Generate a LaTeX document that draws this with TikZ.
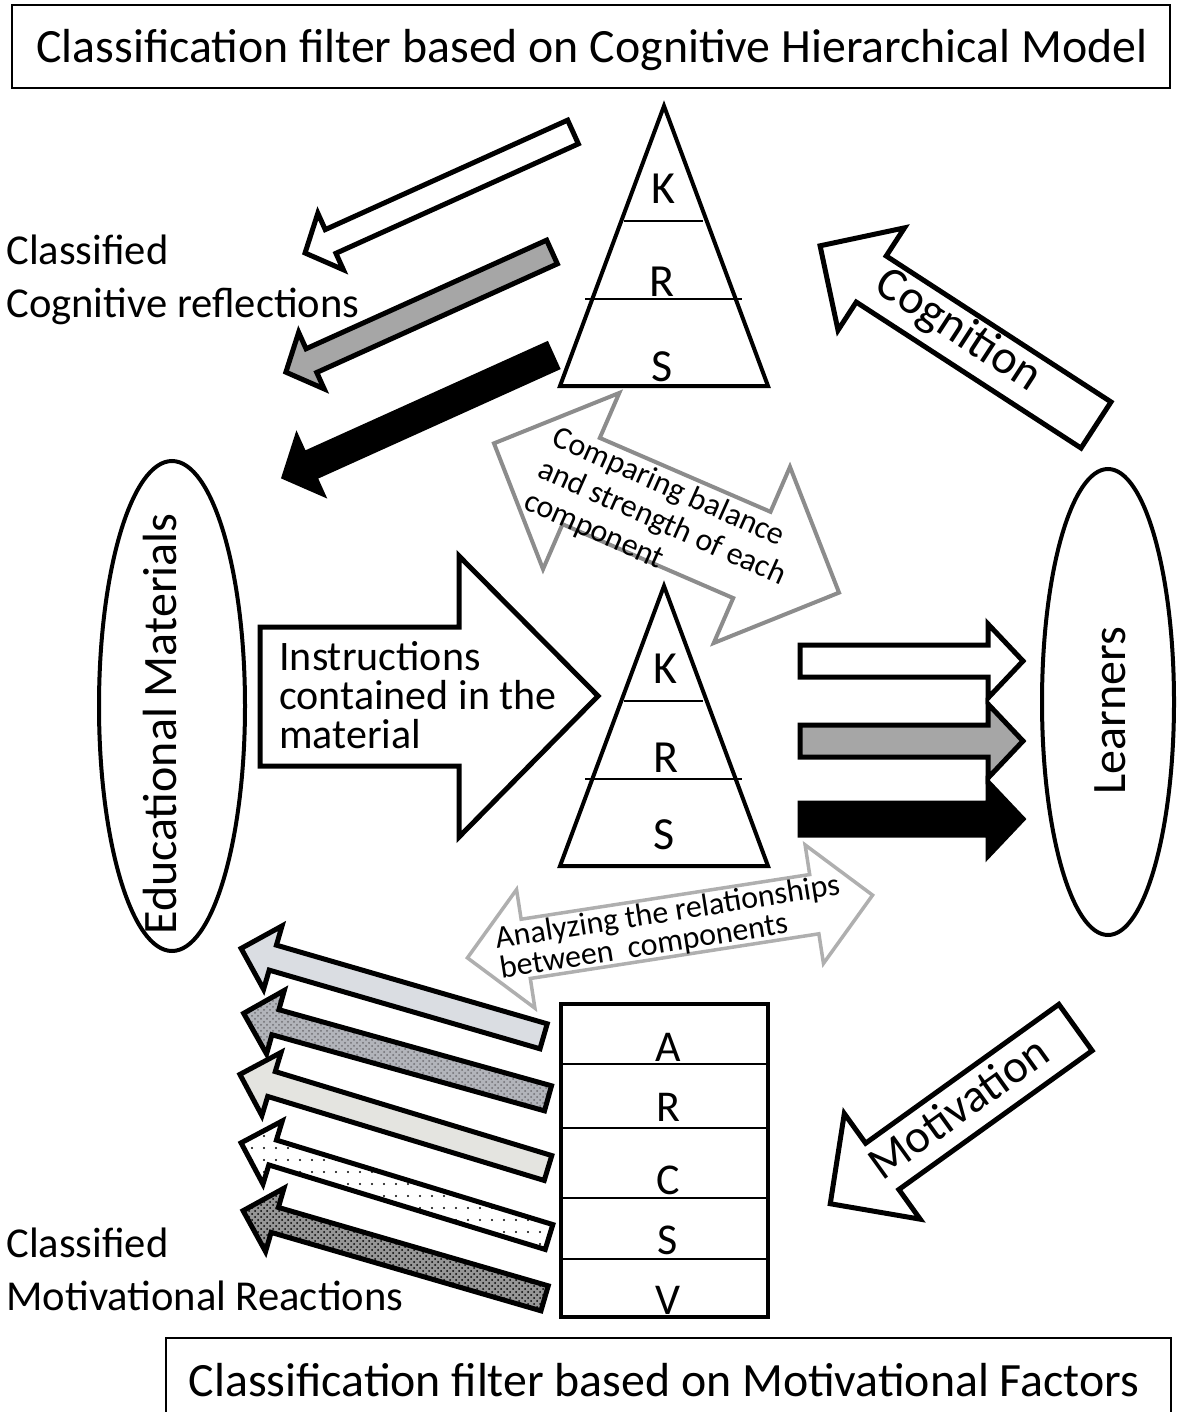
\documentclass[tikz,border=0pt]{standalone}
\usepackage{fontspec}
\setmainfont{Carlito}
\usetikzlibrary{patterns,patterns.meta}

\begin{document}
\begin{tikzpicture}[x=0.5pt,y=0.5pt,yscale=-1,xscale=1,
    blockarrow/.style={line width=2.5pt, line join=miter, miter limit=12},
    grayarrow/.style={line width=2pt, line join=miter, miter limit=12, draw={rgb, 255:red, 140; green, 140; blue, 140 }},
    pyramid/.style={line width=2pt, line join=miter, miter limit=12},
    levelline/.style={line width=0.75pt},
    framebox/.style={line width=1pt},
    bigfont/.style={font=\fontsize{24}{29}\selectfont},
    sidefont/.style={font=\fontsize{21.3}{26.5}\selectfont},
    letterfont/.style={font=\fontsize{23}{28}\selectfont},
    smallfont/.style={font=\fontsize{16}{17.5}\selectfont}]
\useasboundingbox (0,0) rectangle (1177,1412);

%Shape: Rectangle (top title)
\draw [framebox] (12,5) rectangle (1170,88);
%Shape: Rectangle (bottom title)
\draw [framebox] (166,1338) rectangle (1171,1430);

%Shape: Triangle (top)
\draw [pyramid] (664,106) -- (768,386) -- (560,386) -- cycle;
\draw [levelline] (624,221) -- (703,221);
\draw [levelline] (585,299) -- (742,299);
%Shape: Triangle (middle)
\draw [pyramid] (664,586) -- (768,866) -- (560,866) -- cycle;
\draw [levelline] (624,701) -- (703,701);
\draw [levelline] (585,779) -- (742,779);

%Shape: Rectangle (ARCS)
\draw [pyramid] (561,1004) rectangle (768,1317);
\draw [levelline] (561,1064) -- (768,1064);
\draw [levelline] (561,1128) -- (768,1128);
\draw [levelline] (561,1198) -- (768,1198);
\draw [levelline] (561,1259) -- (768,1259);

%Shape: Ellipse
\draw [pyramid] (172,706) ellipse (73 and 245);
%Shape: Ellipse
\draw [pyramid] (1108,702) ellipse (66 and 233);

%Shape: Right Arrow (instructions)
\draw [blockarrow, fill=white] (260,627) -- (459,627) -- (459,556) -- (598,696) -- (459,837) -- (459,766) -- (260,766) -- cycle;

%Shape: Right Arrow (to learners)
\draw [blockarrow, fill=white] (800,645) -- (988,645) -- (988,624) -- (1023,661) -- (988,698) -- (988,677) -- (800,677) -- cycle;
\draw [blockarrow, fill={rgb, 255:red, 166; green, 166; blue, 166 }] (800,725) -- (988,725) -- (988,704) -- (1023,741) -- (988,778) -- (988,757) -- (800,757) -- cycle;
\draw [blockarrow, fill=black] (800,803) -- (988,803) -- (988,782) -- (1023,819) -- (988,856) -- (988,835) -- (800,835) -- cycle;

%Shape: Arrows (classified cognitive reflections)
\draw [blockarrow, fill=white, shift={(573,132)}, rotate=155.7] (0,-13) -- (266,-13) -- (266,-31) -- (294,0) -- (266,31) -- (266,13) -- (0,13) -- cycle;
\draw [blockarrow, fill={rgb, 255:red, 166; green, 166; blue, 166 }, shift={(552,252)}, rotate=155.7] (0,-13) -- (264,-13) -- (264,-31) -- (292,0) -- (264,31) -- (264,13) -- (0,13) -- cycle;
\draw [blockarrow, fill=black, shift={(552,356)}, rotate=155.7] (0,-13) -- (266,-13) -- (266,-31) -- (294,0) -- (266,31) -- (266,13) -- (0,13) -- cycle;

%Shape: Arrow (cognition)
\draw [blockarrow, fill=white, shift={(1096,425)}, rotate=213] (0,-27.5) -- (268,-27.5) -- (268,-61) -- (329,0) -- (268,61) -- (268,27.5) -- (0,27.5) -- cycle;
%Shape: Arrow (motivation)
\draw [blockarrow, fill=white, shift={(1075.5,1027.5)}, rotate=144.3] (0,-28.5) -- (238,-28.5) -- (238,-65) -- (302,0) -- (238,65) -- (238,28.5) -- (0,28.5) -- cycle;

%Shape: Arrows (classified motivational reactions)
\draw [blockarrow, fill={rgb, 255:red, 218; green, 221; blue, 226 }, shift={(543.6,1036.3)}, rotate=196.2] (0,-13) -- (282,-13) -- (282,-33) -- (315,0) -- (282,33) -- (282,13) -- (0,13) -- cycle;
\draw [blockarrow, preaction={fill={rgb, 255:red, 178; green, 180; blue, 186 }}, pattern=crosshatch dots, pattern color={rgb, 255:red, 110; green, 110; blue, 115 }, shift={(548,1098.3)}, rotate=195.6] (0,-13) -- (283,-13) -- (283,-33) -- (316,0) -- (283,33) -- (283,13) -- (0,13) -- cycle;
\draw [blockarrow, fill={rgb, 255:red, 228; green, 228; blue, 224 }, shift={(548,1168)}, rotate=196.9] (0,-13) -- (289,-13) -- (289,-33) -- (322,0) -- (289,33) -- (289,13) -- (0,13) -- cycle;
\draw [blockarrow, preaction={fill=white}, pattern={Dots[distance=6pt, radius=0.6pt]}, shift={(549,1237)}, rotate=197] (0,-13) -- (289,-13) -- (289,-33) -- (322,0) -- (289,33) -- (289,13) -- (0,13) -- cycle;
\draw [blockarrow, preaction={fill={rgb, 255:red, 150; green, 150; blue, 150 }}, pattern=crosshatch dots, pattern color=black, shift={(544.6,1298.3)}, rotate=196.2] (0,-13) -- (281,-13) -- (281,-33) -- (314,0) -- (281,33) -- (281,13) -- (0,13) -- cycle;

%Shape: Double Arrow (comparing)
\draw [grayarrow, fill=white, shift={(666.5,518)}, rotate=23.4] (-188,0) -- (-93,-96) -- (-93,-47) -- (93,-47) -- (93,-96) -- (188,0) -- (93,96) -- (93,47) -- (-93,47) -- (-93,96) -- cycle;
%Shape: Double Arrow (analyzing)
\draw [grayarrow, line width=1.75pt, draw={rgb, 255:red, 175; green, 175; blue, 175 }, fill=white, shift={(670,926.5)}, rotate=-8.8] (-205,0) -- (-146,-60) -- (-146,-30) -- (146,-30) -- (146,-60) -- (205,0) -- (146,60) -- (146,30) -- (-146,30) -- (-146,60) -- cycle;

% Text Node
\node (title) [anchor=base, inner sep=0, font=\fontsize{23.9}{29}\selectfont] at (592,63) {Classification filter based on Cognitive Hierarchical Model};
% Text Node
\node (subtitle) [anchor=base, inner sep=0, font=\fontsize{23.9}{29}\selectfont] at (664,1396) {Classification filter based on Motivational Factors};
% Text Node
\node (cogclass) [anchor=west, inner sep=0, align=left, sidefont] at (6,280) {Classified\\Cognitive reflections};
% Text Node
\node (motclass) [anchor=west, inner sep=0, align=left, sidefont] at (6,1269) {Classified\\Motivational Reactions};
% Text Node
\node (material) [anchor=west, inner sep=0, align=left, font=\fontsize{21}{19.5}\selectfont] at (279,695.5) {Instructions\\contained in the\\material};
% Text Node
\node (edu) [rotate=90, inner sep=0, bigfont] at (160,724) {Educational Materials};
% Text Node
\node (learners) [rotate=90, inner sep=0, bigfont] at (1110,711) {Learners};
% Text Node
\node (cognition) [rotate=-33, inner sep=0, bigfont] at (958,331) {Cognition};
% Text Node
\node (motivation) [rotate=35.7, inner sep=0, font=\fontsize{23.5}{28}\selectfont] at (958,1107) {Motivation};
% Text Node
\node (comparing) [rotate=-24, inner sep=0, align=left, smallfont] at (662,523) {Comparing balance\\and strength of each\\component};
% Text Node
\node (analyzing) [rotate=9, inner sep=0, align=left, font=\fontsize{16}{15}\selectfont] at (670,928) {Analyzing the relationships\\between\ \ components};

% Text Node
\node (topk) [anchor=base, inner sep=0, letterfont] at (663,204) {K};
\node (topr) [anchor=base, inner sep=0, letterfont] at (662,296) {R};
\node (tops) [anchor=base, inner sep=0, letterfont] at (662,381) {S};
% Text Node
\node (midk) [anchor=base, inner sep=0, letterfont] at (665,683) {K};
\node (midr) [anchor=base, inner sep=0, letterfont] at (666,772) {R};
\node (mids) [anchor=base, inner sep=0, letterfont] at (664,849) {S};
% Text Node
\node (arcsa) [anchor=base, inner sep=0, font=\fontsize{22}{26}\selectfont] at (668,1061) {A};
\node (arcsr) [anchor=base, inner sep=0, font=\fontsize{22}{26}\selectfont] at (668,1121) {R};
\node (arcsc) [anchor=base, inner sep=0, font=\fontsize{22}{26}\selectfont] at (668,1194) {C};
\node (arcss) [anchor=base, inner sep=0, font=\fontsize{22}{26}\selectfont] at (668,1254) {S};
\node (arcsv) [anchor=base, inner sep=0, font=\fontsize{22}{26}\selectfont] at (668,1314) {V};
\end{tikzpicture}
\end{document}
